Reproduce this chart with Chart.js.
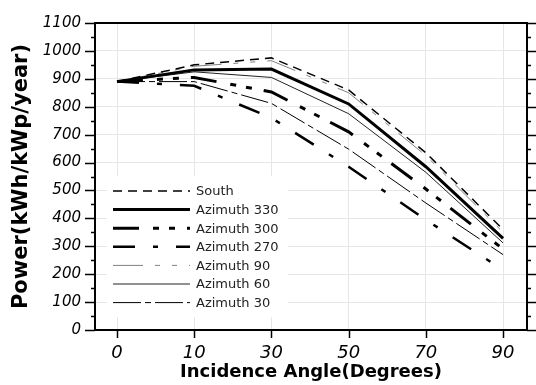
<!DOCTYPE html>
<html>
<head>
<meta charset="utf-8">
<script src="https://cdn.jsdelivr.net/npm/chart.js@4.4.0/dist/chart.umd.min.js"></script>
<style>
  body { margin: 0; background: #fff; }
</style>
</head>
<body>
<canvas id="chart1" width="536" height="385"></canvas>
<script>
// ============== Data
const angles = ['0', '10', '30', '50', '70', '90'];
const seriesNames = ['South', 'Azimuth 330', 'Azimuth 300', 'Azimuth 270', 'Azimuth 90', 'Azimuth 60', 'Azimuth 30'];
const south = [890, 950, 975, 860, 635, 360];
const az330 = [890, 932, 935, 810, 585, 328];
const az300 = [890, 905, 853, 710, 505, 290];
const az270 = [890, 875, 760, 585, 395, 215];
const az90 = [890, 945, 965, 850, 625, 350];
const az60 = [890, 925, 905, 775, 565, 312];
const az30 = [890, 890, 812, 648, 455, 270];

const toPoints = (list) => list.map((v, i) => ({ x: i, y: v }));

const styles = [
  { color: '#000', width: 1.5, dash: [9, 6] },
  { color: '#000', width: 3, dash: [] },
  { color: '#000', width: 3, dash: [26, 14, 6, 10, 6, 12] },
  { color: '#000', width: 2.5, dash: [22, 18, 5, 18] },
  { color: '#808080', width: 1, dash: [30, 12, 5, 12, 5, 12] },
  { color: '#222', width: 1, dash: [] },
  { color: '#000', width: 1, dash: [28, 4, 6, 4] },
];

// legend drawn inside the plot, with dash samples
const legendInside = {
  id: 'legendInside',
  afterDatasetsDraw(chart) {
    const ctx = chart.ctx;
    ctx.save();
    ctx.fillStyle = '#fff';
    ctx.fillRect(107, 176, 181, 141);
    chart.data.datasets.forEach((ds, i) => {
      const y = 191 + i * 18.6;
      ctx.strokeStyle = ds.borderColor;
      ctx.lineWidth = ds.borderWidth;
      ctx.setLineDash(ds.borderDash);
      ctx.beginPath();
      ctx.moveTo(113, y);
      ctx.lineTo(190, y);
      ctx.stroke();
      ctx.setLineDash([]);
      ctx.fillStyle = '#222';
      ctx.font = '13px "DejaVu Sans"';
      ctx.textBaseline = 'middle';
      ctx.fillText(ds.label, 196, y + 1);
    });
    ctx.restore();
  }
};

// top/right border and the tick marks
const frameTicks = {
  id: 'frameTicks',
  afterDraw(chart) {
    const ctx = chart.ctx;
    const a = chart.chartArea;
    const yS = chart.scales.y;
    const xS = chart.scales.x;
    ctx.save();
    ctx.strokeStyle = '#000';
    ctx.lineWidth = 2;
    ctx.beginPath();
    ctx.moveTo(a.left, a.top);
    ctx.lineTo(a.right, a.top);
    ctx.lineTo(a.right, a.bottom);
    ctx.stroke();
    ctx.lineWidth = 1.5;
    for (let v = 0; v <= 1100; v += 50) {
      const py = Math.round(yS.getPixelForValue(v)) + 0.5;
      const len = v % 100 === 0 ? 10 : 4;
      ctx.beginPath();
      ctx.moveTo(a.left - len, py);
      ctx.lineTo(a.left, py);
      ctx.moveTo(a.right, py);
      ctx.lineTo(a.right + len, py);
      ctx.stroke();
    }
    angles.forEach((t, i) => {
      const px = Math.round(xS.getPixelForValue(i)) + 0.5;
      ctx.beginPath();
      ctx.moveTo(px, a.bottom);
      ctx.lineTo(px, a.bottom + 8);
      ctx.stroke();
    });
    ctx.restore();
  }
};

// ============== Charts
document.addEventListener('DOMContentLoaded', () => {
  createChart1();
});

const createChart1 = () => {
  const ctx = document.getElementById('chart1').getContext('2d');

  const values = [south, az330, az300, az270, az90, az60, az30];

  const data = {
    datasets: values.map((list, i) => ({
      label: seriesNames[i],
      data: toPoints(list),
      borderColor: styles[i].color,
      borderWidth: styles[i].width,
      borderDash: styles[i].dash,
      pointRadius: 0,
      tension: 0,
      fill: false,
    }))
  };

  const config = {
    type: 'line',
    data: data,
    options: {
      responsive: false,
      animation: false,
      devicePixelRatio: 1,
      layout: {
        padding: { top: 14, right: 9, left: 0, bottom: 0 }
      },
      plugins: {
        legend: { display: false },
        tooltip: { enabled: false },
      },
      scales: {
        x: {
          type: 'linear',
          min: -0.285,
          max: 5.31,
          afterBuildTicks: (scale) => {
            scale.ticks = angles.map((a, i) => ({ value: i }));
          },
          afterFit: (scale) => { scale.height = 55; },
          ticks: {
            callback: (v) => angles[v],
            color: '#000',
            font: { family: 'DejaVu Sans', size: 18, style: 'italic' },
            padding: 13,
            maxRotation: 0,
          },
          grid: { color: '#e6e6e6', drawTicks: false },
          border: { display: true, color: '#000', width: 2 },
          title: {
            display: true,
            text: 'Incidence Angle(Degrees)',
            color: '#000',
            font: { family: 'DejaVu Sans', size: 18, weight: 'bold' },
            padding: { top: 0, bottom: 2 },
          },
        },
        y: {
          min: 0,
          max: 1100,
          afterFit: (scale) => { scale.width = 95; },
          ticks: {
            stepSize: 50,
            callback: (v) => (v % 100 === 0 ? v : ''),
            color: '#000',
            font: { family: 'DejaVu Sans', size: 15, style: 'italic' },
            padding: 14,
          },
          grid: { color: '#e6e6e6', drawTicks: false },
          border: { display: true, color: '#000', width: 2 },
          title: {
            display: true,
            text: 'Power(kWh/kWp/year)',
            color: '#000',
            font: { family: 'DejaVu Sans', size: 21, weight: 'bold' },
            padding: { top: 9, bottom: 0 },
          },
        }
      }
    },
    plugins: [legendInside, frameTicks],
  };

  const newChart = new Chart(ctx, config);
}
</script>
</body>
</html>
